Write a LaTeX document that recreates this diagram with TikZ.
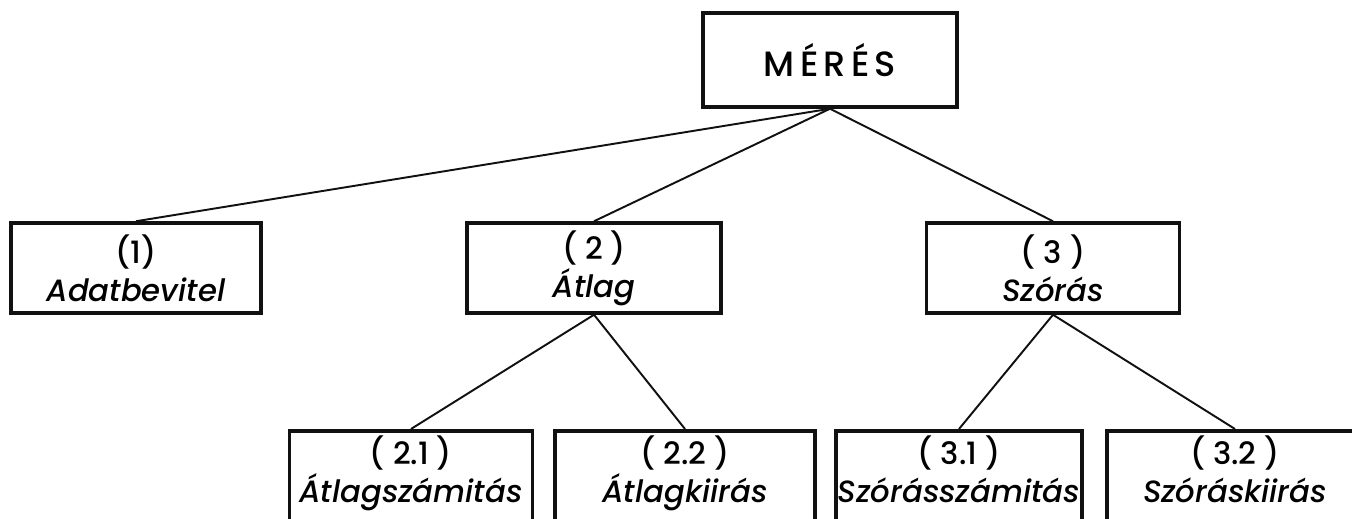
\documentclass[tikz,border=0pt]{standalone}
\usepackage{fontspec}
\setmainfont{Poppins Medium}[ItalicFont={Poppins Medium Italic}]
\newfontfamily\wideletters{Poppins Medium}[LetterSpace=15]
\usepackage{tikz}
\definecolor{cInk}{HTML}{111111}
\tikzset{
  node-box/.style={draw=cInk,line width=2pt,minimum height=1.8cm,align=center,
    inner sep=1pt,font=\fontsize{17.5}{21.5}\selectfont},
  node-root/.style={node-box,minimum height=1.88cm,
    font=\wideletters\fontsize{20}{24}\selectfont},
  node-leaf/.style={node-box,anchor=north,minimum height=0pt,inner ysep=0.1cm,
    text depth=0.65cm},
  edge/.style={line width=1.1pt,draw=cInk},
}

\begin{document}
\begin{tikzpicture}[x=0.02cm,y=-0.02cm]
  \clip (0,0) rectangle (1352,519);
  % felso szint
  \node[node-root,minimum width=5.08cm] (meres) at (830,60) {MÉRÉS};
  % masodik szint
  \node[node-box,minimum width=5.0cm] (adat) at (136,268) {(1)\\\textit{Adatbevitel}};
  \node[node-box,minimum width=5.08cm] (atlag) at (594,268) {( 2 )\\\textit{Átlag}};
  \node[node-box,minimum width=5.06cm] (szoras) at (1053,268) {( 3 )\\\textit{Szórás}};
  % harmadik szint
  \node[node-leaf,minimum width=4.86cm] (atlagszam) at (411,429) {( 2.1 )\\\textit{Átlagszámitás}};
  \node[node-leaf,minimum width=5.2cm] (atlagki) at (685,429) {( 2.2 )\\\textit{Átlagkiirás}};
  \node[node-leaf,minimum width=4.76cm] (szorasszam) at (959,429) {( 3.1 )\\\textit{Szórásszámitás}};
  \node[node-leaf,minimum width=5.12cm] (szoraski) at (1235,429) {( 3.2 )\\\textit{Szóráskiirás}};
  \draw[edge] (meres.south) -- (adat.north);
  \draw[edge] (meres.south) -- (atlag.north);
  \draw[edge] (meres.south) -- (szoras.north);
  \draw[edge] (atlag.south) -- (atlagszam.north);
  \draw[edge] (atlag.south) -- (atlagki.north);
  \draw[edge] (szoras.south) -- (szorasszam.north);
  \draw[edge] (szoras.south) -- (szoraski.north);
\end{tikzpicture}
\end{document}
